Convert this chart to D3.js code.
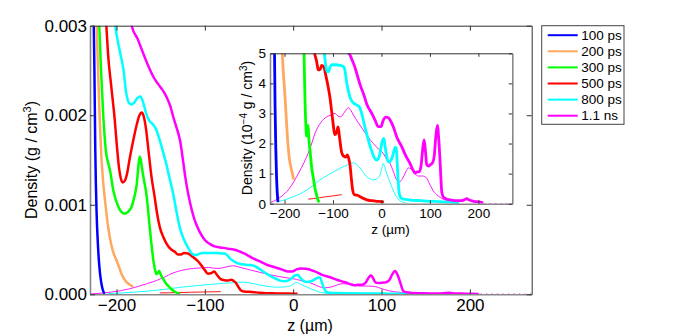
<!DOCTYPE html>
<html>
<head>
<meta charset="utf-8">
<script src="https://cdn.jsdelivr.net/npm/d3@7"></script>
<style>
body { margin: 0; background: #fff; }
svg { font-family: "Liberation Sans", Arial, Helvetica, sans-serif; }
</style>
</head>
<body>
<svg width="692" height="336"></svg>
<script>
// density profiles along z (um), density in 1e-4 g/cm3
var legendLabels = ["100 ps", "200 ps", "300 ps", "500 ps", "800 ps", "1.1 ns"];

var d100ps = [[-227,40],[-226,32],[-225,25],[-224,16],[-222.5,9],[-221,5.5],[-219.5,3.2],[-218,1.8],
  [-216.5,0.9],[-215,0.35],[-213.5,0.05]];

var d200ps = [[-224,36],[-222.5,30],[-220.5,24],[-219,19.5],[-217.2,15.5],[-215.3,12.8],[-212,9.6],
  [-209.6,7.6],[-206,5.6],[-203,4.5],[-200,3.8],[-197,3.0],[-194,2.2],[-190,1.5],[-186,1.15],
  [-183,0.95],[-181.5,0.8]];

var d300ps = [[-221,34],[-219.5,30],[-217.5,25],[-215,20],[-212,16],[-209,14.5],[-207.5,13.9],
  [-203.6,11.6],[-198,9.8],[-194,9.15],[-190.4,9.0],[-187,9.2],[-182.8,9.8],[-179.5,11],
  [-177.2,12.2],[-175.3,14.2],[-173.8,15.4],[-172.5,15.0],[-171,14.0],[-169,12.8],[-166.3,11.3],
  [-162.5,7.6],[-160,5.2],[-158,3.6],[-156,2.6],[-154.5,2.25],[-153,2.45],[-151.5,2.6],[-150,2.2],
  [-147,1.7],[-144,1.2],[-140.5,0.85],[-137,0.5],[-134,0.3],[-131,0.12],[-128,0.05]];

var d500ps = [[-213,33],[-211.5,30],[-209.6,26.9],[-205.9,23.2],[-202,19.5],[-199.5,16.5],[-197,14],
  [-195,12.9],[-193,12.5],[-190.5,12.7],[-188,13.5],[-185,15.2],[-181,17.2],[-177,19],[-174,20],
  [-171.5,20.3],[-169,19.8],[-166.5,18.4],[-163.5,15.8],[-160.5,13.2],[-157,11],[-154,9],[-151,7.5],
  [-147,6.4],[-143.6,5.7],[-138,5.0],[-134,4.75],[-130.5,4.45],[-127,4.45],[-123.5,4.6],[-119,4.55],
  [-114,4.2],[-109,3.8],[-106,3.5],[-103,3.1],[-100,2.7],[-96.5,2.3],[-93,2.35],[-89.5,2.55],
  [-86.5,2.2],[-82,1.7],[-78,1.58],[-73.5,1.55],[-70.5,1.62],[-67.5,1.5],[-65,1.3],[-62.5,0.9],
  [-59.5,0.46],[-56,0.3],[-50,0.28],[-45,0.24],[-38,0.18],[-30,0.13],[-20,0.1],[-10,0.08],[0,0.07],[5,0.05]];

var d800ps = [[-205,33],[-201.5,30],[-197,27.5],[-192.3,25.2],[-189,22.5],[-186,21.4],[-183,21.2],
  [-180,21.4],[-176.5,21.9],[-173,22.1],[-170,21.5],[-166.5,20.2],[-163,19.4],[-159,19.0],[-155.5,18.5],
  [-151,17.2],[-147,15.8],[-143.5,14.5],[-140,13],[-136,11.3],[-132,9.2],[-128.5,7.5],[-124,6.2],
  [-119,5.2],[-115,4.6],[-112,4.4],[-109.5,4.38],[-106,4.55],[-102,4.62],[-95,4.62],[-85,4.6],
  [-78,4.55],[-75,4.4],[-72,4.05],[-69,3.8],[-64,3.5],[-58,3.35],[-51,3.28],[-45,3.2],[-40,2.95],
  [-35,2.6],[-30,2.3],[-25,2.0],[-20,1.75],[-15,1.53],[-10,1.45],[-5,1.55],[-1,1.85],[2,2.1],[5,2.17],
  [8,1.85],[11,1.55],[15,1.38],[20,1.45],[25,1.7],[28.5,1.88],[30.5,1.85],[32.5,1.35],[34.5,0.75],
  [37,0.32],[41,0.18],[50,0.14],[60,0.12],[80,0.1],[100,0.08],[120,0.07],[140,0.05],[160,0.03]];

var d1100ps = [[-184,31],[-182.8,30],[-176,28.5],[-169.7,26.9],[-164,25.5],[-158.3,24.3],[-153,23.5],
  [-150.8,23.2],[-147,22.7],[-143.2,22.0],[-139,21],[-135.7,19.8],[-132,18.6],[-128.1,17.2],
  [-124.5,14.8],[-122,13],[-119,11.3],[-115,9.5],[-111.6,8.3],[-106,7],[-100,6.07],[-94,5.6],
  [-89,5.35],[-80,5.2],[-74,5.1],[-65,4.95],[-60,4.75],[-55,4.55],[-51,4.33],[-44,3.95],[-36,3.6],
  [-30,3.3],[-20,3.0],[-13.3,2.78],[-6.4,2.56],[-1,2.56],[3.8,2.78],[9,2.88],[14.3,2.86],[19,2.75],
  [24.4,2.56],[32,2.2],[41.8,1.9],[50,1.6],[58.9,1.34],[65,1.12],[69.2,1.02],[74,1.06],[78,1.06],
  [82,1.3],[85,1.8],[88,2.12],[90.5,1.8],[93.4,1.3],[97,1.25],[101,1.3],[105,1.35],[109,1.6],
  [112,2.2],[115.3,2.6],[118,2.2],[120.8,1.45],[122.5,0.9],[124.5,0.38],[128,0.22],[135,0.15],
  [145,0.12],[155,0.1],[165,0.1],[172,0.14],[176,0.17],[180,0.13],[190,0.08],[200,0.06],[210,0.03]];

// thin profiles (no legend entry)
var thinMagenta = [[-230,0.03],[-215,0.15],[-195.6,0.4],[-185,0.62],[-174.9,0.9],[-165,1.2],
  [-154.3,1.56],[-145,1.95],[-137.1,2.34],[-125,2.7],[-113,2.89],[-104,2.95],[-96,3.0],[-90,2.92],
  [-84,2.89],[-76,3.05],[-68.4,3.19],[-63,3.1],[-58,2.95],[-48,2.7],[-37.5,2.45],[-27,2.2],
  [-16.8,2.0],[-6,1.82],[3.8,1.67],[10,1.5],[17.6,1.34],[25,1.05],[31.4,0.79],[37,0.73],[44,0.85],
  [50,1.05],[55.4,1.19],[62,1.15],[70,0.98],[76,0.92],[85,0.92],[93.4,0.85],[98,0.7],[103.7,0.52],
  [109,0.38],[114,0.3],[122,0.2],[131,0.13],[140,0.08]];

var thinCyan = [[-210,0.08],[-195,0.15],[-182,0.23],[-168,0.33],[-154,0.46],[-140,0.62],[-127,0.79],
  [-113,0.93],[-99,1.06],[-88,1.15],[-79,1.23],[-68,1.3],[-58,1.36],[-51,1.3],[-44,1.18],[-37,1.03],
  [-30.5,0.9],[-23,0.82],[-17,0.79],[-10,0.82],[-3,0.95],[1,1.2],[3.8,1.34],[7,1.2],[10.8,1.01],
  [16,0.78],[21,0.57],[26,0.38],[31,0.23],[36,0.13],[42,0.07],[50,0.03]];

var thinRed = [[-151,0.15],[-140,0.17],[-128,0.2],[-115,0.23],[-100,0.26],[-82,0.3]];

var magentaTail = [[212,0],[270,0]];

var xTicks = [-200, -100, 0, 100, 200];
var mainYTicks = [0, 10, 20, 30];
var mainYTickLabels = ["0.000", "0.001", "0.002", "0.003"];
var insetYTicks = [0, 1, 2, 3, 4, 5];

var series = [d100ps, d200ps, d300ps, d500ps, d800ps, d1100ps];
var colors = ["#0000ff", "#ffa860", "#00ff00", "#ff0000", "#00ffff", "#ff00ff"];
var thinSeries = [thinMagenta, thinCyan, thinRed];
var thinColors = ["#ff00ff", "#00ffff", "#ff0000"];

var svg = d3.select("svg");

function panel(id, left, top, width, height, yMax, opt) {
  var x = d3.scaleLinear().domain([-230, 270]).range([0, width]),
      y = d3.scaleLinear().domain([0, yMax]).range([height, 0]);

  var g = svg.append("g").attr("transform", "translate(" + left + "," + top + ")");
  g.append("rect").attr("width", width).attr("height", height).attr("fill", "#fff");
  g.append("clipPath").attr("id", id).append("rect").attr("width", width).attr("height", height);

  var line = d3.line()
    .x(function(d) { return x(d[0]); })
    .y(function(d) { return y(d[1]); })
    .curve(d3.curveMonotoneX);

  var plot = g.append("g").attr("clip-path", "url(#" + id + ")");

  plot.selectAll(".thin").data(thinSeries).enter().append("path")
    .attr("class", "thin")
    .attr("d", line)
    .attr("fill", "none")
    .attr("stroke", function(d, i) { return thinColors[i]; })
    .attr("stroke-width", 0.9);

  plot.selectAll(".thick").data(series).enter().append("path")
    .attr("class", "thick")
    .attr("d", line)
    .attr("fill", "none")
    .attr("stroke", function(d, i) { return colors[i]; })
    .attr("stroke-width", opt.lw)
    .attr("stroke-linejoin", "round");

  plot.append("path").datum(magentaTail)
    .attr("d", line)
    .attr("fill", "none")
    .attr("stroke", "#ff00ff")
    .attr("stroke-width", 1.5)
    .attr("stroke-dasharray", "1.2,4.3");

  // axes, ticks pointing inward
  var bottom = g.append("g")
    .attr("transform", "translate(0," + height + ")")
    .call(d3.axisBottom(x).tickValues(xTicks).tickSize(-opt.tick).tickSizeOuter(0).tickPadding(opt.xPad));
  var leftAx = g.append("g")
    .call(d3.axisLeft(y).tickValues(opt.yTicks).tickSize(-opt.tick).tickSizeOuter(0).tickPadding(opt.yPad)
      .tickFormat(function(d, i) { return opt.yLabels ? opt.yLabels[i] : d; }));
  var topAx = g.append("g")
    .call(d3.axisTop(x).tickValues(xTicks).tickSize(-opt.tick).tickSizeOuter(0).tickFormat(""));
  var rightAx = g.append("g")
    .attr("transform", "translate(" + width + ",0)")
    .call(d3.axisRight(y).tickValues(opt.yTicks).tickSize(-opt.tick).tickSizeOuter(0).tickFormat(""));

  [bottom, leftAx, topAx, rightAx].forEach(function(a) {
    a.selectAll("line").attr("stroke", "#333");
    a.selectAll("text").attr("fill", "#000").style("font-size", opt.font + "px").attr("font-family", null);
  });
  bottom.select(".domain").attr("stroke", "#888").attr("stroke-width", 1.6);
  leftAx.select(".domain").attr("stroke", "#888").attr("stroke-width", 1.6);
  topAx.select(".domain").attr("stroke", "#333").attr("stroke-width", 1);
  rightAx.select(".domain").attr("stroke", opt.rightColor).attr("stroke-width", opt.rightWidth);
  return g;
}

// main axes
panel("clipMain", 90, 25.7, 441.7, 268.6, 30,
  { tick: 5, xPad: 5, yPad: 3, font: 17, lw: 2.5, yTicks: mainYTicks, yLabels: mainYTickLabels,
    rightColor: "#333", rightWidth: 1 });

svg.append("text")
  .attr("x", 310).attr("y", 331)
  .attr("text-anchor", "middle")
  .style("font-size", "16px")
  .text("z (\u00b5m)");

var ylab = svg.append("text")
  .attr("transform", "translate(37,160) rotate(-90)")
  .attr("text-anchor", "middle")
  .style("font-size", "16px");
ylab.append("tspan").text("Density (g / cm");
ylab.append("tspan").attr("dy", -6).style("font-size", "11px").text("3");
ylab.append("tspan").attr("dy", 6).text(")");

// inset axes
panel("clipInset", 270, 53.3, 242.3, 150.4, 5,
  { tick: 3.5, xPad: 4.5, yPad: 4, font: 13.5, lw: 2.8, yTicks: insetYTicks, yLabels: null,
    rightColor: "#888", rightWidth: 1.6 });

svg.append("text")
  .attr("x", 390.5).attr("y", 234)
  .attr("text-anchor", "middle")
  .style("font-size", "13.5px")
  .text("z (\u00b5m)");

var ylab2 = svg.append("text")
  .attr("transform", "translate(252,128) rotate(-90)")
  .attr("text-anchor", "middle")
  .style("font-size", "14px");
ylab2.append("tspan").text("Density (10");
ylab2.append("tspan").attr("dy", -5).style("font-size", "10px").text("\u22124");
ylab2.append("tspan").attr("dy", 5).text(" g / cm");
ylab2.append("tspan").attr("dy", -5).style("font-size", "10px").text("3");
ylab2.append("tspan").attr("dy", 5).text(")");

// legend
var legend = svg.append("g").attr("transform", "translate(541.7,25.7)");
legend.append("rect")
  .attr("width", 82.3).attr("height", 98.6)
  .attr("fill", "#fff").attr("stroke", "#444").attr("stroke-width", 1);

var entry = legend.selectAll(".entry").data(legendLabels).enter().append("g")
  .attr("class", "entry")
  .attr("transform", function(d, i) { return "translate(0," + (9.5 + i * 16.1) + ")"; });
entry.append("line")
  .attr("x1", 6).attr("x2", 36)
  .attr("stroke", function(d, i) { return colors[i]; })
  .attr("stroke-width", 2);
entry.append("text")
  .attr("x", 39.5).attr("dy", "0.35em")
  .style("font-size", "13.5px")
  .text(function(d) { return d; });
</script>
</body>
</html>
